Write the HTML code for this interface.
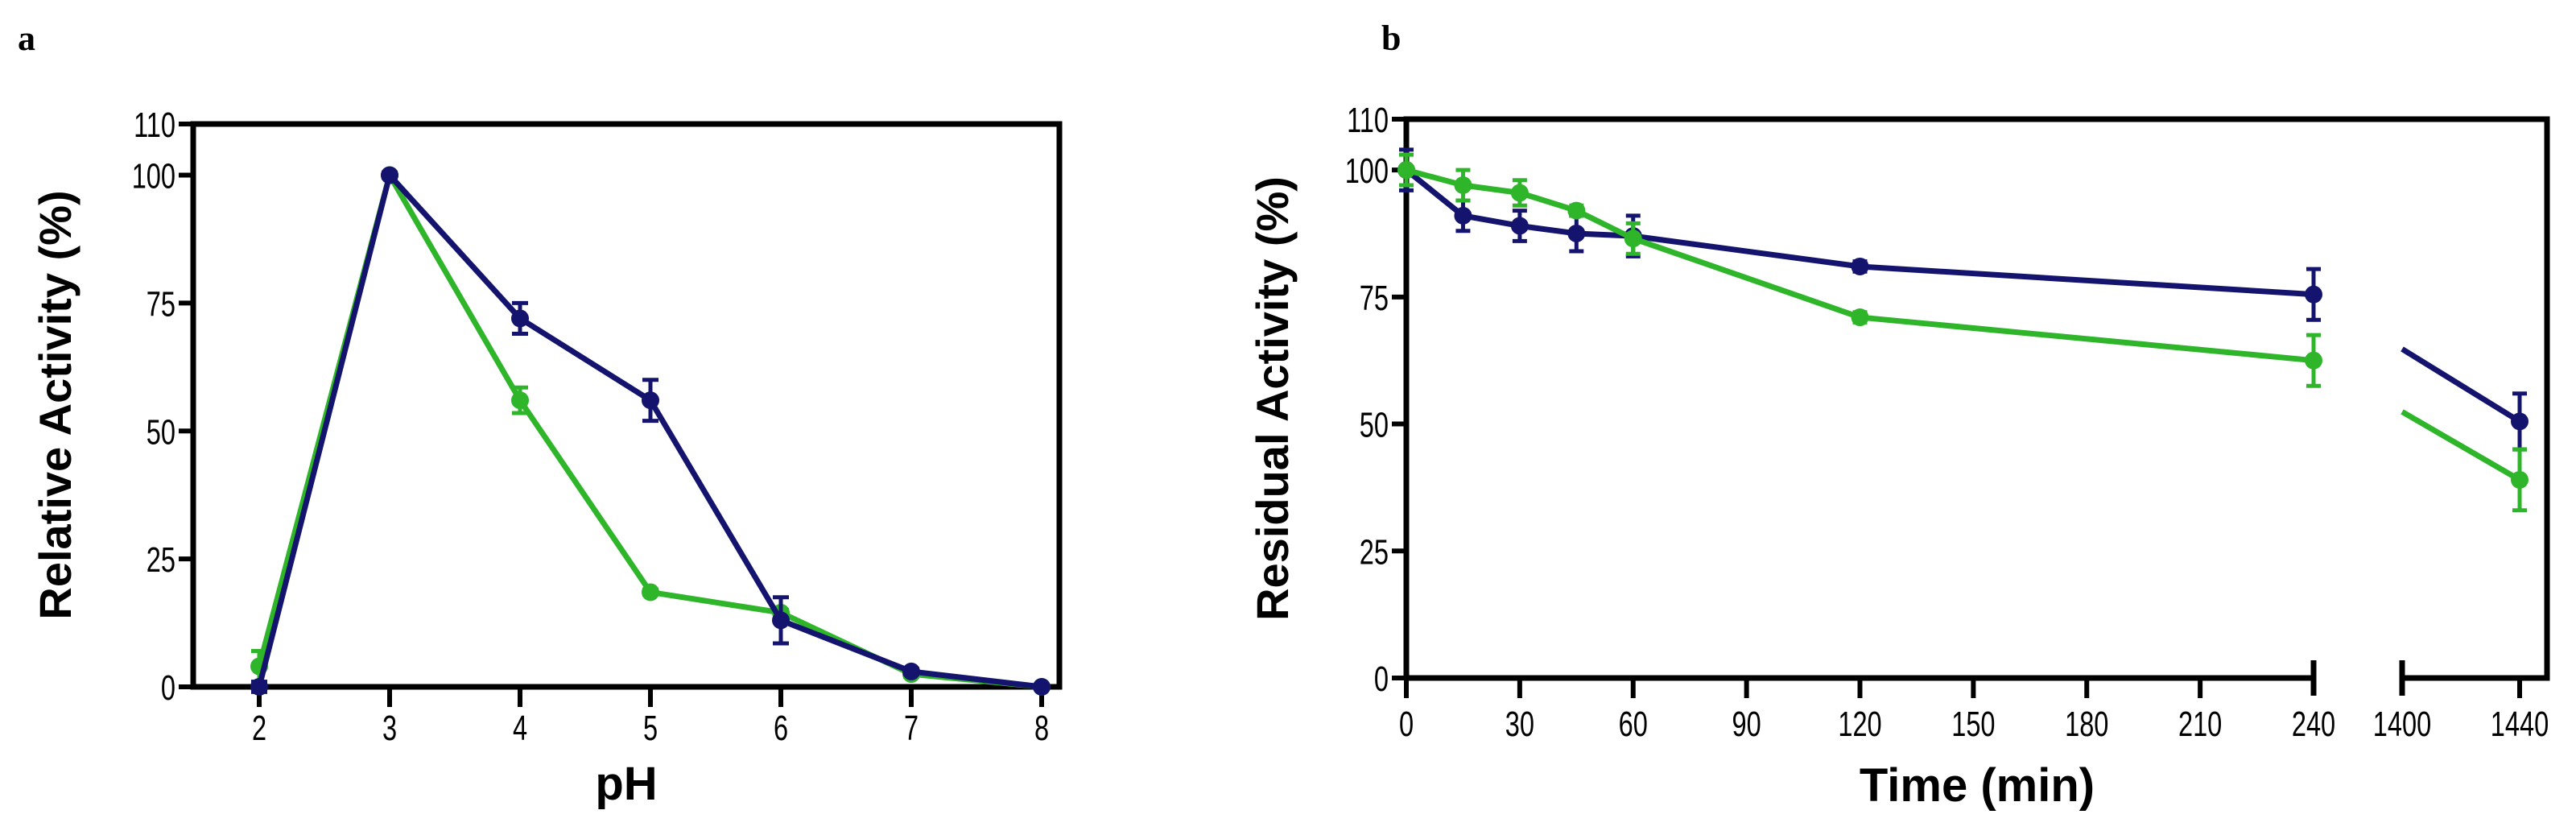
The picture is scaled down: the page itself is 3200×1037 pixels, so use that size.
<!DOCTYPE html>
<html><head><meta charset="utf-8"><style>
html,body{margin:0;padding:0;background:#fff;}
svg{display:block;}
text{font-family:"Liberation Sans",sans-serif;}
</style></head><body>
<svg id="fig" width="3200" height="1037" viewBox="0 0 3200 1037" xmlns="http://www.w3.org/2000/svg">
<text x="22" y="62" style="font-family:'Liberation Serif',serif" font-weight="bold" font-size="44">a</text>
<text x="1716" y="62" style="font-family:'Liberation Serif',serif" font-weight="bold" font-size="44">b</text>
<g id="pa"></g>
<g id="pb"></g>
</svg>
<script>
// Panel a data
const phCats = [2,3,4,5,6,7,8];
const navyA = [0,100,72,56,13,3,0];
const navyAErr = [1,0.5,3,4,4.5,0.5,0.3];
const greenA = [4,100,56,18.5,14.5,2.5,0];
const greenAErr = [3,0.5,2.5,0.5,0.5,0.5,0.3];
const yTicks = [0,25,50,75,100,110];
// Panel b data
const timeCats = [0,15,30,45,60,120,240,1440];
const navyB = [100,91,89,87.5,87,81,75.5,50.5];
const navyBErr = [4,3,3,3.5,4,1,5,5.5];
const greenB = [100,97,95.5,92,86.5,71,62.5,39];
const greenBErr = [3,3,2.5,1,3,1,5,6];
const xTicksB1 = [0,30,60,90,120,150,180,210,240];
const xTicksB2 = [1400,1440];

const NS="http://www.w3.org/2000/svg";
const NAVY="#14146e", GREEN="#2fb52a";
function mk(parent,tag,attrs){const e=document.createElementNS(NS,tag);for(const k in attrs)e.setAttribute(k,attrs[k]);parent.appendChild(e);return e;}
function tick(parent,x,y,anchor,txt){
  const tx=mk(parent,'text',{x:0,y:0,'text-anchor':anchor,'font-size':44,transform:`translate(${x},${y}) scale(0.74,1)`});
  tx.textContent=txt;
  return tx;
}

// ---------- Panel a ----------
const pa=document.getElementById('pa');
const aL=240,aR=1316,aT=154,aB=853;
const yA=v=>aB-(v/110)*(aB-aT);
const xA=p=>322+(p-2)*162;
function drawSeriesA(vals,errs,color,name){
  let d='';vals.forEach((v,i)=>{d+=(i?'L':'M')+xA(phCats[i])+' '+yA(v);});
  const pl=mk(pa,'path',{d:d,fill:'none',stroke:color,'stroke-width':7,'stroke-linejoin':'round'});
  
  
  vals.forEach((v,i)=>{
    const x=xA(phCats[i]);
    const eb=mk(pa,'path',{d:`M${x} ${yA(v+errs[i])}V${yA(v-errs[i])}M${x-10} ${yA(v+errs[i])}h20M${x-10} ${yA(v-errs[i])}h20`,stroke:color,'stroke-width':5,fill:'none'});
    
    
    const c=mk(pa,'circle',{cx:x,cy:yA(v),r:11,fill:color});
    
    
  });
}
mk(pa,'path',{d:`M${aL} ${aT}H${aR}V${aB}H${aL}Z`,fill:'none',stroke:'#000','stroke-width':7});
yTicks.forEach(t=>{
  mk(pa,'line',{x1:aL-18,x2:aL,y1:yA(t),y2:yA(t),stroke:'#000','stroke-width':6});
  const tx=tick(pa,aL-22,yA(t)+16,'end',t);
  
  
});
phCats.forEach(p=>{
  mk(pa,'line',{x1:xA(p),x2:xA(p),y1:aB,y2:aB+25,stroke:'#000','stroke-width':6});
  const tx=tick(pa,xA(p),aB+66,'middle',p);
  
  
});
drawSeriesA(greenA,greenAErr,GREEN,'green-series');
drawSeriesA(navyA,navyAErr,NAVY,'navy-series');
let t1=mk(pa,'text',{x:(aL+aR)/2,y:993,'text-anchor':'middle','font-size':58,'font-weight':'bold'});t1.textContent='pH';


let t2=mk(pa,'text',{x:0,y:0,'text-anchor':'middle','font-size':56,'font-weight':'bold',transform:`translate(88,503) rotate(-90)`});t2.textContent='Relative Activity (%)';



// ---------- Panel b ----------
const pb=document.getElementById('pb');
const bL=1747,bR=3164,bT=148,bB=842;
const yB=v=>bB-(v/110)*(bB-bT);
const seg1End=2874, seg2Start=2984;
const xB=t=>t<=240?bL+t*(seg1End-bL)/240:seg2Start+(t-1400)*(3130-seg2Start)/40;
mk(pb,'path',{d:`M${bL} ${bB}V${bT}H${bR}V${bB}H${seg2Start}M${bL} ${bB}H${seg1End}`,fill:'none',stroke:'#000','stroke-width':7});
mk(pb,'path',{d:`M${seg1End} ${bB-22}V${bB+22}M${seg2Start} ${bB-22}V${bB+22}`,stroke:'#000','stroke-width':7});
yTicks.forEach(t=>{
  mk(pb,'line',{x1:bL-18,x2:bL,y1:yB(t),y2:yB(t),stroke:'#000','stroke-width':6});
  const tx=tick(pb,bL-22,yB(t)+16,'end',t);
  
  
});
xTicksB1.concat(xTicksB2).forEach(t=>{
  if(t!==240&&t!==1400) mk(pb,'line',{x1:xB(t),x2:xB(t),y1:bB,y2:bB+25,stroke:'#000','stroke-width':6});
  const tx=tick(pb,xB(t),bB+72,'middle',t);
  
  
});
function drawSeriesB(vals,errs,color,name){
  let d='';
  for(let i=0;i<vals.length;i++){
    const x=xB(timeCats[i]),y=yB(vals[i]);
    if(i>0&&timeCats[i]>240){
      const x0=xB(timeCats[i-1]),y0=yB(vals[i-1]);
      const yS=y0+(y-y0)*(seg2Start-x0)/(x-x0);
      d+=`M${seg2Start} ${yS}L${x} ${y}`;
    } else d+=(i?'L':'M')+x+' '+y;
  }
  const pl=mk(pb,'path',{d:d,fill:'none',stroke:color,'stroke-width':7,'stroke-linejoin':'round'});
  
  
  vals.forEach((v,i)=>{
    const x=xB(timeCats[i]);
    const eb=mk(pb,'path',{d:`M${x} ${yB(v+errs[i])}V${yB(v-errs[i])}M${x-9} ${yB(v+errs[i])}h18M${x-9} ${yB(v-errs[i])}h18`,stroke:color,'stroke-width':5,fill:'none'});
    
    
    const c=mk(pb,'circle',{cx:x,cy:yB(v),r:11,fill:color});
    
    
  });
}
drawSeriesB(navyB,navyBErr,NAVY,'navy-series');
drawSeriesB(greenB,greenBErr,GREEN,'green-series');
let t3=mk(pb,'text',{x:2456,y:995,'text-anchor':'middle','font-size':58,'font-weight':'bold'});t3.textContent='Time (min)';


let t4=mk(pb,'text',{x:0,y:0,'text-anchor':'middle','font-size':56,'font-weight':'bold',transform:`translate(1600,495) rotate(-90)`});t4.textContent='Residual Activity (%)';


</script>
</body></html>
